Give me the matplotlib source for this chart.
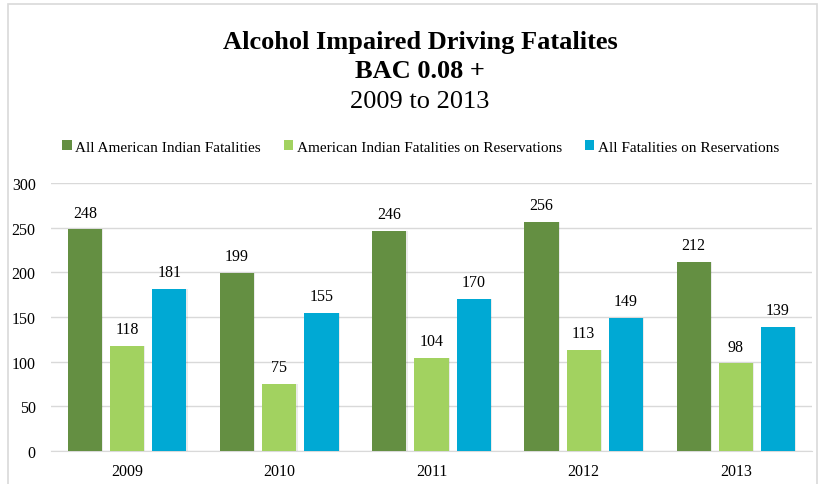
import numpy as np
import matplotlib
matplotlib.use("Agg")
import matplotlib.pyplot as plt
from matplotlib.patches import Rectangle

years = ["2009", "2010", "2011", "2012", "2013"]
all_ai = [248, 199, 246, 256, 212]
ai_res = [118, 75, 104, 113, 98]
all_res = [181, 155, 170, 149, 139]

series = [
    ("All American Indian Fatalities", all_ai, "#648f42"),
    ("American Indian Fatalities on Reservations", ai_res, "#a2d260"),
    ("All Fatalities on Reservations", all_res, "#00a9d4"),
]

plt.rcParams["font.family"] = ["Liberation Serif", "DejaVu Serif"]

fig = plt.figure(figsize=(8.25, 4.85), dpi=100)
fig.patches.append(Rectangle((8 / 825, -0.01), 809 / 825, 1 - 5 / 485 + 0.01,
                             transform=fig.transFigure, fill=False,
                             edgecolor="#d9d9d9", linewidth=1.2))

ax = fig.add_axes([51 / 825, 1 - 452 / 485, 761 / 825, (452 - 184) / 485])

x = np.arange(len(years))
width = 0.224
step = 0.277
for i, (label, vals, color) in enumerate(series):
    pos = x + (i - 1) * step
    # soft shadow
    ax.bar(pos + 0.008, vals, width, color="#000000", alpha=0.08, zorder=2)
    bars = ax.bar(pos, vals, width, color=color, label=label, zorder=3)
    for b, v in zip(bars, vals):
        ax.text(b.get_x() + b.get_width() / 2, v + 10, str(v),
                ha="center", va="bottom", fontsize=11.5)

ax.set_xlim(-0.5, len(years) - 0.5)
ax.set_ylim(0, 300)
ax.set_yticks(range(0, 301, 50))
ax.set_xticks(x)
ax.set_xticklabels(years)
ax.tick_params(axis="both", length=0, labelsize=11.5)
ax.tick_params(axis="x", pad=9)
ax.tick_params(axis="y", pad=11)
ax.grid(axis="y", color="#d9d9d9", linewidth=1, zorder=0)
for s in ["top", "right", "left"]:
    ax.spines[s].set_visible(False)
ax.spines["bottom"].set_color("#d9d9d9")

fig.text(0.509, 1 - 42 / 485, "Alcohol Impaired Driving Fatalites",
         ha="center", va="center", fontsize=19, fontweight="bold")
fig.text(0.509, 1 - 72 / 485, "BAC 0.08 +",
         ha="center", va="center", fontsize=19, fontweight="bold")
fig.text(0.509, 1 - 102 / 485, "2009 to 2013",
         ha="center", va="center", fontsize=19)

ax.legend(loc="center", bbox_to_anchor=(0.51, 1 - 148 / 485), bbox_transform=fig.transFigure,
          ncol=3, frameon=False, fontsize=11, handlelength=0.6, handleheight=0.6,
          handletextpad=0.25, columnspacing=1.5)

fig.savefig("out.png", dpi=100)
